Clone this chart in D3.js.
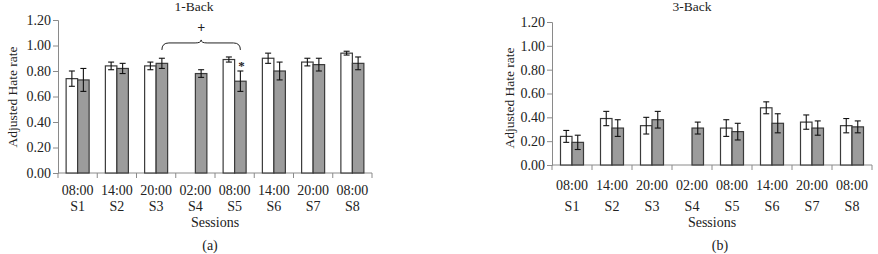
<!DOCTYPE html>
<html>
<head>
<meta charset="utf-8">
<script src="https://cdn.jsdelivr.net/npm/d3@7"></script>
<style>
  body { margin: 0; background: #fff; }
  svg text { font-family: "Liberation Serif", "Times New Roman", serif; fill: #222; }
</style>
</head>
<body>
<svg id="chart" width="878" height="254"></svg>
<script>
// sessions shared by both panels
var sessions = ["S1", "S2", "S3", "S4", "S5", "S6", "S7", "S8"];
var times = ["08:00", "14:00", "20:00", "02:00", "08:00", "14:00", "20:00", "08:00"];
var yTicks = [0, 0.2, 0.4, 0.6, 0.8, 1.0, 1.2];

// 1-Back (a)
var oneBackWhite = [0.74, 0.84, 0.84, null, 0.89, 0.90, 0.87, 0.94];
var oneBackWhiteErr = [0.06, 0.03, 0.03, null, 0.02, 0.04, 0.03, 0.015];
var oneBackGray = [0.73, 0.82, 0.86, 0.78, 0.72, 0.80, 0.85, 0.86];
var oneBackGrayErr = [0.09, 0.04, 0.04, 0.03, 0.08, 0.07, 0.05, 0.05];

// 3-Back (b)
var threeBackWhite = [0.24, 0.39, 0.33, null, 0.31, 0.48, 0.36, 0.33];
var threeBackWhiteErr = [0.05, 0.06, 0.07, null, 0.07, 0.05, 0.06, 0.06];
var threeBackGray = [0.19, 0.31, 0.38, 0.31, 0.28, 0.35, 0.31, 0.32];
var threeBackGrayErr = [0.06, 0.07, 0.07, 0.05, 0.07, 0.08, 0.06, 0.05];

var svg = d3.select("#chart");
var fs = "14px";

function drawPanel(opt) {
  var g = svg.append("g");

  var x = d3.scaleBand().domain(sessions).range([opt.x0, opt.x1]).paddingInner(0).paddingOuter(0);
  var y = d3.scaleLinear().domain([0, 1.2]).range([opt.y0, opt.y1]);
  var barW = 11.5;

  // y axis
  var yAxis = g.append("g")
    .attr("transform", "translate(" + opt.x0 + ",0)")
    .call(d3.axisLeft(y).tickValues(yTicks).tickFormat(d3.format(".2f")).tickSize(5).tickPadding(2));
  yAxis.select(".domain").attr("stroke", "#8a8a8a");
  yAxis.selectAll(".tick line").attr("stroke", "#8a8a8a");
  yAxis.selectAll(".tick text").style("font-size", fs).attr("fill", "#222")
    .style("font-family", '"Liberation Serif", serif');

  // x axis: ticks at category boundaries
  var xAxisG = g.append("g").attr("transform", "translate(0," + opt.y0 + ")");
  xAxisG.append("line")
    .attr("x1", opt.x0).attr("x2", opt.x1)
    .attr("stroke", "#8a8a8a");
  xAxisG.selectAll(".bt")
    .data(sessions.concat(["end"]))
    .enter().append("line")
    .attr("x1", function(d, i) { return opt.x0 + i * x.bandwidth(); })
    .attr("x2", function(d, i) { return opt.x0 + i * x.bandwidth(); })
    .attr("y1", 0).attr("y2", 5)
    .attr("stroke", "#8a8a8a");
  xAxisG.selectAll(".tm")
    .data(times).enter().append("text")
    .attr("x", function(d, i) { return x(sessions[i]) + x.bandwidth() / 2; })
    .attr("y", opt.timeY - opt.y0)
    .attr("text-anchor", "middle")
    .style("font-size", fs)
    .text(function(d) { return d; });
  xAxisG.selectAll(".sn")
    .data(sessions).enter().append("text")
    .attr("x", function(d) { return x(d) + x.bandwidth() / 2; })
    .attr("y", opt.sessY - opt.y0)
    .attr("text-anchor", "middle")
    .style("font-size", fs)
    .text(function(d) { return d; });

  // bars
  function bars(vals, errs, fill, offset) {
    var data = sessions.map(function(s, i) { return { s: s, v: vals[i], e: errs[i] }; })
      .filter(function(d) { return d.v != null; });
    var cx = function(d) { return x(d.s) + x.bandwidth() / 2 + offset; };
    g.selectAll(null).data(data).enter().append("rect")
      .attr("x", function(d) { return cx(d) - barW / 2; })
      .attr("y", function(d) { return y(d.v); })
      .attr("width", barW)
      .attr("height", function(d) { return y(0) - y(d.v); })
      .attr("fill", fill)
      .attr("stroke", "#3a3a3a")
      .attr("stroke-width", 1.2);
    var eb = g.selectAll(null).data(data).enter().append("g").attr("stroke", "#111").attr("stroke-width", 1.1);
    eb.append("line")
      .attr("x1", cx).attr("x2", cx)
      .attr("y1", function(d) { return y(d.v + d.e); })
      .attr("y2", function(d) { return y(d.v - d.e); });
    eb.append("line")
      .attr("x1", function(d) { return cx(d) - 3; }).attr("x2", function(d) { return cx(d) + 3; })
      .attr("y1", function(d) { return y(d.v + d.e); }).attr("y2", function(d) { return y(d.v + d.e); });
    eb.append("line")
      .attr("x1", function(d) { return cx(d) - 3; }).attr("x2", function(d) { return cx(d) + 3; })
      .attr("y1", function(d) { return y(d.v - d.e); }).attr("y2", function(d) { return y(d.v - d.e); });
  }
  bars(opt.white, opt.whiteErr, "#ffffff", -barW / 2);
  bars(opt.gray, opt.grayErr, "#9c9c9c", barW / 2);

  // titles and labels
  g.append("text").attr("x", opt.titleX).attr("y", 11).attr("text-anchor", "middle")
    .style("font-size", "13.5px").text(opt.title);
  g.append("text")
    .attr("transform", "translate(" + opt.yLabelX + "," + opt.yLabelY + ") rotate(-90)")
    .attr("text-anchor", "middle")
    .style("font-size", "13.5px")
    .text("Adjusted Hate rate");
  g.append("text").attr("x", opt.sessX).attr("y", opt.sessLabY).attr("text-anchor", "middle")
    .style("font-size", fs).text("Sessions");
  g.append("text").attr("x", opt.capX).attr("y", 250).attr("text-anchor", "middle")
    .style("font-size", fs).text(opt.caption);

  return { x: x, y: y, g: g, barW: barW };
}

var a = drawPanel({
  x0: 58, x1: 372, y0: 173, y1: 20,
  white: oneBackWhite, whiteErr: oneBackWhiteErr,
  gray: oneBackGray, grayErr: oneBackGrayErr,
  title: "1-Back", titleX: 194, yLabelX: 17, yLabelY: 97,
  timeY: 195, sessY: 211, sessX: 215, sessLabY: 227, capX: 210, caption: "(a)"
});

drawPanel({
  x0: 552, x1: 872, y0: 165, y1: 22,
  white: threeBackWhite, whiteErr: threeBackWhiteErr,
  gray: threeBackGray, grayErr: threeBackGrayErr,
  title: "3-Back", titleX: 692, yLabelX: 514, yLabelY: 98,
  timeY: 190, sessY: 211, sessX: 712, sessLabY: 227, capX: 720, caption: "(b)"
});

// significance brace on 1-Back, S3 gray to S5 gray
var braceFrom = "S3", braceTo = "S5", braceLevel = 1.02;
var bx0 = a.x(braceFrom) + a.x.bandwidth() / 2 + a.barW / 2;
var bx1 = a.x(braceTo) + a.x.bandwidth() / 2 + a.barW / 2;
var bm = (bx0 + bx1) / 2;
var by = a.y(braceLevel);
var p = d3.path();
p.moveTo(bx0, by + 7);
p.quadraticCurveTo(bx0, by, bx0 + 7, by);
p.lineTo(bm - 6, by);
p.quadraticCurveTo(bm, by, bm, by - 3);
p.quadraticCurveTo(bm, by, bm + 6, by);
p.lineTo(bx1 - 7, by);
p.quadraticCurveTo(bx1, by, bx1, by + 7);
a.g.append("path").attr("d", p.toString()).attr("fill", "none").attr("stroke", "#222").attr("stroke-width", 1);
a.g.append("text").attr("x", bm).attr("y", by - 11).attr("text-anchor", "middle")
  .style("font-size", "14px").style("font-weight", "bold").text("+");
a.g.append("text").attr("x", bx1 + 1).attr("y", a.y(oneBackWhite[4]) + 10).attr("text-anchor", "middle")
  .style("font-size", "13px").style("font-weight", "bold").text("*");
</script>
</body>
</html>
